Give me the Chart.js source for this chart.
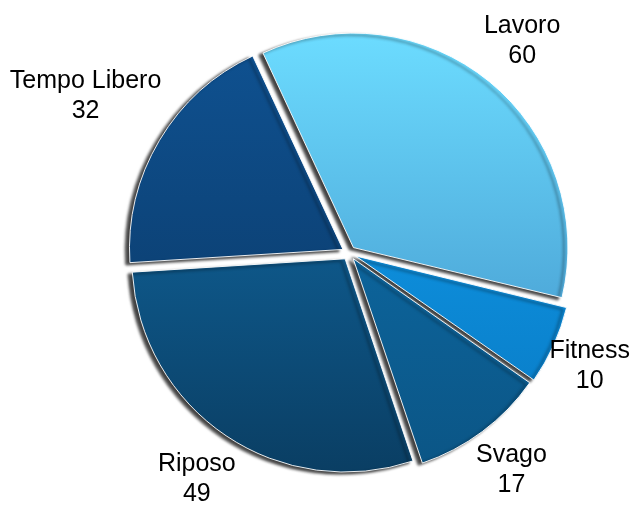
<!DOCTYPE html>
<html>
<head>
<meta charset="utf-8">
<script src="https://cdn.jsdelivr.net/npm/chart.js@4"></script>
<style>
html,body{margin:0;padding:0;background:#fff;}
#wrap{width:632px;height:526px;}
</style>
</head>
<body>
<div id="wrap"><canvas id="c" width="632" height="526"></canvas></div>
<script>
const categories = ["Lavoro", "Fitness", "Svago", "Riposo", "Tempo Libero"];
const values = [60, 10, 17, 49, 32];

const topColors = ["#6cdcff", "#12a2f2", "#0e72b0", "#1270ae", "#0f5292"];
const bottomColors = ["#3d8cc4", "#0878c2", "#0b5585", "#0a3e63", "#0a3560"];

function sliceGradient(ctx) {
  const chart = ctx.chart;
  const area = chart.chartArea;
  const i = ctx.dataIndex;
  if (!area) return topColors[i];
  const cx = (area.left + area.right) / 2, cy = (area.top + area.bottom) / 2;
  const r = 215;
  const g = chart.ctx.createLinearGradient(cx, cy - r, cx, cy + r);
  g.addColorStop(0, topColors[i]);
  g.addColorStop(1, bottomColors[i]);
  return g;
}

const shadowPlugin = {
  id: 'shadowPlugin',
  beforeDatasetDraw(chart) {
    const c = chart.ctx;
    c.save();
    c.shadowColor = 'rgba(0,0,0,0.75)';
    c.shadowBlur = 3;
    c.shadowOffsetX = -4;
    c.shadowOffsetY = 2;
  },
  afterDatasetDraw(chart) {
    chart.ctx.restore();
  }
};

const labelPlugin = {
  id: 'labelPlugin',
  afterDraw(chart) {
    const c = chart.ctx;
    const meta = chart.getDatasetMeta(0);
    c.save();
    c.font = '25px "Liberation Sans", Arial, sans-serif';
    c.fillStyle = '#000';
    c.textAlign = 'center';
    c.textBaseline = 'middle';
    const lh = 30;
    meta.data.forEach((arc, i) => {
      const p = arc.getProps(['x', 'y', 'startAngle', 'endAngle', 'outerRadius'], true);
      const mid = (p.startAngle + p.endAngle) / 2;
      const l1 = categories[i], l2 = String(values[i]);
      const w = Math.max(c.measureText(l1).width, c.measureText(l2).width);
      const hw = w / 2, hh = lh;
      const dx = Math.cos(mid), dy = Math.sin(mid);
      const proj = Math.abs(dx) * hw + Math.abs(dy) * hh;
      const d = p.outerRadius + 7 + 6 + proj;
      let x = p.x + dx * d, y = p.y + dy * d;
      x = Math.min(Math.max(x, hw + 2), chart.width - hw - 2);
      c.fillText(l1, x, y - lh / 2);
      c.fillText(l2, x, y + lh / 2);
    });
    c.restore();
  }
};

new Chart(document.getElementById('c'), {
  type: 'pie',
  data: {
    labels: categories,
    datasets: [{
      data: values,
      backgroundColor: sliceGradient,
      borderColor: 'rgba(255,255,255,0.9)',
      borderWidth: 1,
      offset: 28,
      hoverOffset: 0
    }]
  },
  options: {
    responsive: false,
    animation: false,
    rotation: -25,
    radius: 213,
    layout: { padding: { left: 66, right: 0, top: 0, bottom: 20 } },
    plugins: { legend: { display: false }, tooltip: { enabled: false } }
  },
  plugins: [shadowPlugin, labelPlugin]
});
</script>
</body>
</html>
